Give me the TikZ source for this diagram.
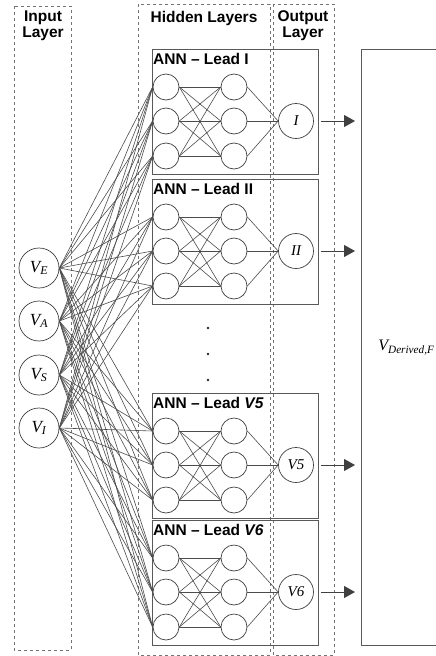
\documentclass[tikz,border=0pt]{standalone}
\usepackage{fontspec}
\setmainfont{Liberation Sans}
\newfontfamily\seriffont{Liberation Serif}
\usetikzlibrary{arrows.meta}

\tikzset{
  neuron/.style={circle, draw=black!75, line width=0.7pt, minimum size=26pt, inner sep=0pt},
  outneuron/.style={neuron, minimum size=35pt, font=\seriffont\itshape\fontsize{15}{17}\selectfont},
  inneuron/.style={neuron, minimum size=40pt, font=\seriffont\itshape\fontsize{17}{19}\selectfont},
  conn/.style={draw=black!70, line width=0.6pt},
  layerbox/.style={draw=black!55, dashed, line width=0.7pt},
  annbox/.style={draw=black!65, line width=0.8pt},
  heading/.style={font=\bfseries\fontsize{15.5}{18}\selectfont, align=center, inner sep=0pt},
  anntitle/.style={font=\bfseries\fontsize{15.5}{18}\selectfont, inner sep=0pt, anchor=north west},
  outarrow/.style={draw=black!75, line width=1pt, -{Triangle[length=11pt,width=12pt]}}
}

\begin{document}
\begin{tikzpicture}[x=1pt, y=-1pt]
  \useasboundingbox (0,0) rectangle (436,656);

  % Schichten (gestrichelt)
  \draw[layerbox] (14,6) rectangle (71,650);
  \draw[layerbox] (138,4) rectangle (270,655);
  \draw[layerbox] (273,4) rectangle (334,655);
  \node[heading] (tin) at (43,26) {Input\\[-2pt]Layer};
  \node[heading] (thid) at (204,18) {Hidden Layers};
  \node[heading] (tout) at (303,26) {Output\\[-2pt]Layer};

  % Eingangsneuronen
  \foreach \n/\y in {E/268, A/321, S/375, I/428}
    \node[inneuron] (in\n) at (39,\y) {V\textsubscript{\n}};

  % ANN je Ableitung
  \foreach \b/\top/\lab/\olab in {1/49/I/I, 2/179/II/II, 3/393/\textit{V5}/V5, 4/520/\textit{V6}/V6} {
    \draw[annbox] (152,\top) rectangle (318,\top+125);
    \node[anntitle] (title\b) at (153,\top+4) {ANN – Lead \lab};
    \foreach \i/\dy in {1/38, 2/72, 3/107} {
      \node[neuron] (h\b a\i) at (166,\top+\dy) {};
      \node[neuron] (h\b b\i) at (234,\top+\dy) {};
    }
    \node[outneuron] (out\b) at (296,\top+72) {\olab};
    \foreach \i in {1,2,3} {
      \foreach \j in {1,2,3}
        \draw[conn] (h\b a\i.east) -- (h\b b\j.west);
      \draw[conn] (h\b b\i.east) -- (out\b.west);
    }
    \coordinate (tip\b) at (355,\top+72);
    \draw[outarrow] ([xshift=7pt]out\b.east) -- (tip\b);
  }

  % Verbindungen Eingang -> verdeckte Schicht
  \foreach \n in {E,A,S,I}
    \foreach \b in {1,2,3,4}
      \foreach \i in {1,2,3}
        \draw[conn] (in\n.east) -- (h\b a\i.west);

  % Punkte
  \foreach \y in {328,354,380}
    \fill[black!85] (208,\y) circle (1.4pt);

  % Ausgang
  \node[draw=black!65, line width=0.8pt, anchor=north west, minimum width=90pt, minimum height=596pt,
        font=\seriffont\itshape\fontsize{16}{18}\selectfont] (derived) at (361,49)
        {V\textsubscript{Derived,F}};
\end{tikzpicture}
\end{document}
